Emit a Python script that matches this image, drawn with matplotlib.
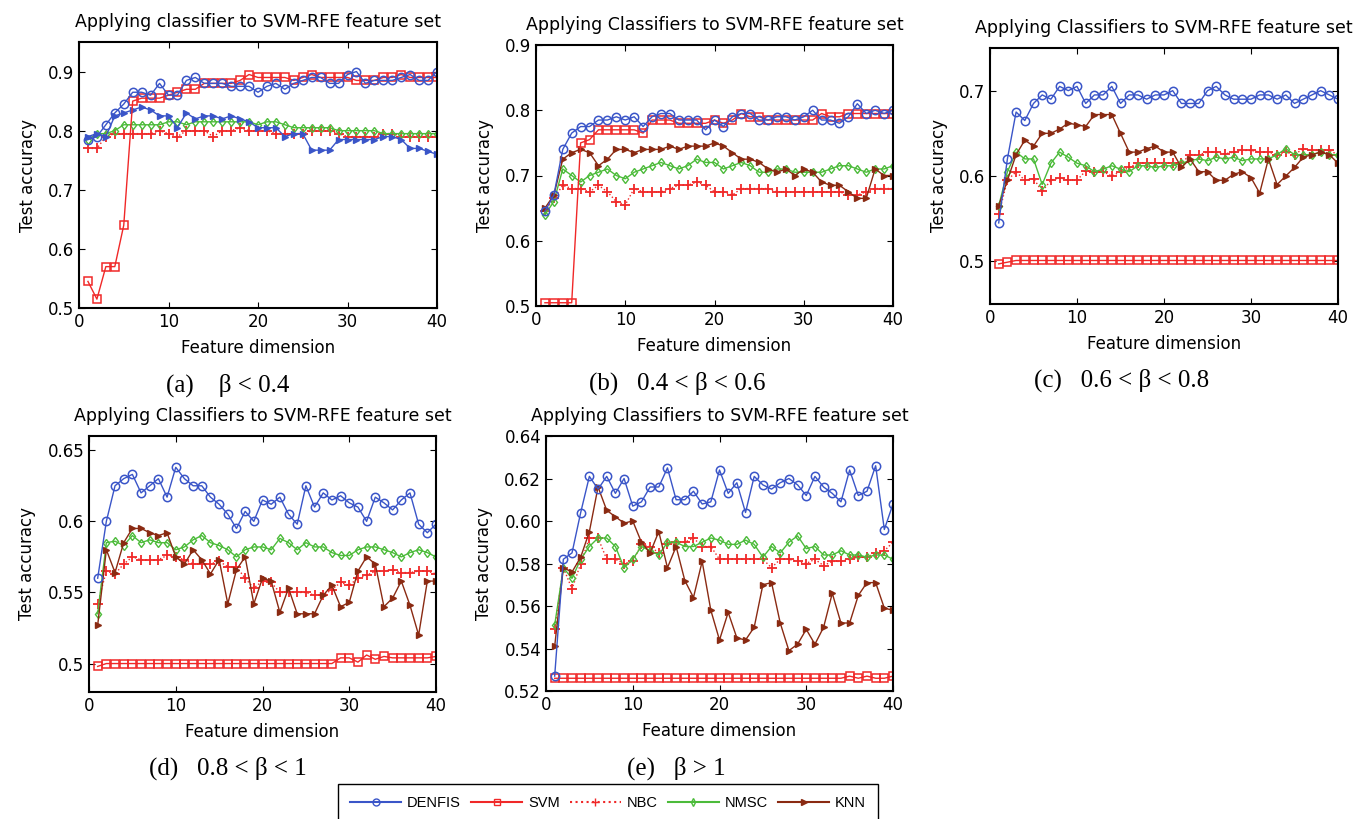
import matplotlib

matplotlib.use("Agg")
import matplotlib.pyplot as plt
import numpy as np
from matplotlib.lines import Line2D
from matplotlib.ticker import FormatStrFormatter

plt.rcParams["font.family"] = ["DejaVu Sans"]

FEATURE_DIM = np.arange(1, 41)

# (a) beta < 0.4
A_DENFIS = [0.785, 0.79, 0.81, 0.83, 0.845, 0.865, 0.865, 0.86, 0.88, 0.86,
            0.86, 0.885, 0.89, 0.88, 0.88, 0.88, 0.875, 0.875, 0.875, 0.865,
            0.875, 0.88, 0.87, 0.88, 0.885, 0.89, 0.89, 0.88, 0.88, 0.895,
            0.9, 0.88, 0.885, 0.885, 0.885, 0.89, 0.895, 0.885, 0.885, 0.9]
A_SVM = [0.545, 0.515, 0.57, 0.57, 0.64, 0.85, 0.855, 0.855, 0.855, 0.86,
         0.865, 0.87, 0.87, 0.88, 0.88, 0.88, 0.88, 0.885, 0.895, 0.89,
         0.89, 0.89, 0.89, 0.885, 0.89, 0.895, 0.89, 0.89, 0.89, 0.89,
         0.885, 0.885, 0.885, 0.89, 0.89, 0.895, 0.89, 0.89, 0.89, 0.89]
A_NBC = [0.77, 0.77, 0.79, 0.795, 0.795, 0.795, 0.795, 0.795, 0.8, 0.795,
         0.79, 0.8, 0.8, 0.8, 0.79, 0.8, 0.8, 0.805, 0.8, 0.8,
         0.8, 0.795, 0.795, 0.795, 0.795, 0.8, 0.8, 0.8, 0.795, 0.79,
         0.79, 0.79, 0.79, 0.795, 0.795, 0.79, 0.79, 0.79, 0.79, 0.79]
A_NMSC = [0.785, 0.795, 0.795, 0.8, 0.81, 0.81, 0.81, 0.81, 0.81, 0.815,
          0.815, 0.81, 0.815, 0.815, 0.815, 0.815, 0.815, 0.815, 0.815, 0.81,
          0.815, 0.815, 0.81, 0.805, 0.805, 0.805, 0.805, 0.805, 0.8, 0.8,
          0.8, 0.8, 0.8, 0.795, 0.795, 0.795, 0.795, 0.795, 0.795, 0.795]
A_KNN = [0.79, 0.795, 0.79, 0.825, 0.83, 0.835, 0.84, 0.835, 0.825, 0.825,
         0.805, 0.83, 0.82, 0.825, 0.825, 0.82, 0.825, 0.82, 0.815, 0.805,
         0.805, 0.805, 0.79, 0.795, 0.795, 0.767, 0.767, 0.767, 0.785, 0.785,
         0.785, 0.785, 0.785, 0.79, 0.79, 0.785, 0.77, 0.77, 0.765, 0.76]

# (b) 0.4 < beta < 0.6
B_DENFIS = [0.645, 0.67, 0.74, 0.765, 0.775, 0.775, 0.785, 0.785, 0.79, 0.785,
            0.79, 0.775, 0.79, 0.795, 0.795, 0.785, 0.785, 0.785, 0.77, 0.785,
            0.775, 0.79, 0.795, 0.795, 0.785, 0.785, 0.79, 0.79, 0.785, 0.79,
            0.8, 0.785, 0.785, 0.78, 0.79, 0.81, 0.795, 0.8, 0.795, 0.8]
B_SVM = [0.505, 0.505, 0.505, 0.505, 0.75, 0.755, 0.77, 0.77, 0.77, 0.77,
         0.77, 0.765, 0.785, 0.785, 0.785, 0.78, 0.78, 0.78, 0.78, 0.785,
         0.78, 0.785, 0.795, 0.79, 0.79, 0.785, 0.785, 0.785, 0.785, 0.785,
         0.785, 0.795, 0.79, 0.79, 0.795, 0.795, 0.795, 0.795, 0.795, 0.795]
B_NBC = [0.645, 0.665, 0.685, 0.68, 0.68, 0.675, 0.685, 0.675, 0.66, 0.655,
         0.68, 0.675, 0.675, 0.675, 0.68, 0.685, 0.685, 0.69, 0.685, 0.675,
         0.675, 0.67, 0.68, 0.68, 0.68, 0.68, 0.675, 0.675, 0.675, 0.675,
         0.675, 0.675, 0.675, 0.675, 0.67, 0.67, 0.675, 0.68, 0.68, 0.68]
B_NMSC = [0.64, 0.66, 0.71, 0.7, 0.69, 0.7, 0.705, 0.71, 0.7, 0.695,
          0.705, 0.71, 0.715, 0.72, 0.715, 0.71, 0.715, 0.725, 0.72, 0.72,
          0.71, 0.715, 0.72, 0.715, 0.705, 0.705, 0.71, 0.71, 0.705, 0.705,
          0.705, 0.705, 0.71, 0.715, 0.715, 0.71, 0.705, 0.71, 0.71, 0.715]
B_KNN = [0.65, 0.67, 0.725, 0.735, 0.74, 0.735, 0.715, 0.725, 0.74, 0.74,
         0.735, 0.74, 0.74, 0.74, 0.745, 0.74, 0.745, 0.745, 0.745, 0.75,
         0.745, 0.735, 0.725, 0.725, 0.72, 0.71, 0.705, 0.71, 0.7, 0.71,
         0.705, 0.69, 0.685, 0.685, 0.675, 0.665, 0.665, 0.71, 0.7, 0.7]

# (c) 0.6 < beta < 0.8
C_DENFIS = [0.545, 0.62, 0.675, 0.665, 0.685, 0.695, 0.69, 0.705, 0.7, 0.705,
            0.685, 0.695, 0.695, 0.705, 0.685, 0.695, 0.695, 0.69, 0.695, 0.695,
            0.7, 0.685, 0.685, 0.685, 0.7, 0.705, 0.695, 0.69, 0.69, 0.69,
            0.695, 0.695, 0.69, 0.695, 0.685, 0.69, 0.695, 0.7, 0.695, 0.69]
C_SVM = [0.497, 0.499, 0.501, 0.501, 0.501, 0.501, 0.501, 0.501, 0.501, 0.501,
         0.501, 0.501, 0.501, 0.501, 0.501, 0.501, 0.501, 0.501, 0.501, 0.501,
         0.501, 0.501, 0.501, 0.501, 0.501, 0.501, 0.501, 0.501, 0.501, 0.501,
         0.501, 0.501, 0.501, 0.501, 0.501, 0.501, 0.501, 0.501, 0.501, 0.501]
C_NBC = [0.555, 0.595, 0.605, 0.595, 0.597, 0.582, 0.595, 0.598, 0.595, 0.595,
         0.606, 0.605, 0.605, 0.6, 0.605, 0.61, 0.615, 0.615, 0.615, 0.615,
         0.615, 0.615, 0.625, 0.625, 0.628, 0.628, 0.626, 0.628, 0.63, 0.63,
         0.628, 0.628, 0.625, 0.628, 0.625, 0.632, 0.63, 0.63, 0.63, 0.625]
C_NMSC = [0.565, 0.605, 0.628, 0.62, 0.62, 0.59, 0.615, 0.628, 0.622, 0.615,
          0.612, 0.605, 0.608, 0.612, 0.608, 0.605, 0.612, 0.612, 0.61, 0.612,
          0.612, 0.615, 0.618, 0.62, 0.618, 0.622, 0.62, 0.622, 0.618, 0.62,
          0.62, 0.62, 0.625, 0.632, 0.625, 0.625, 0.625, 0.628, 0.625, 0.625]
C_KNN = [0.565, 0.595, 0.625, 0.642, 0.635, 0.65, 0.65, 0.655, 0.662, 0.66,
         0.658, 0.672, 0.672, 0.672, 0.65, 0.628, 0.628, 0.632, 0.635, 0.628,
         0.628, 0.61, 0.62, 0.605, 0.605, 0.595, 0.595, 0.602, 0.605, 0.598,
         0.58, 0.62, 0.59, 0.6, 0.61, 0.622, 0.625, 0.628, 0.625, 0.615]

# (d) 0.8 < beta < 1
D_DENFIS = [0.56, 0.6, 0.625, 0.63, 0.633, 0.62, 0.625, 0.63, 0.617, 0.638,
            0.63, 0.625, 0.625, 0.617, 0.612, 0.605, 0.595, 0.607, 0.6, 0.615,
            0.612, 0.617, 0.605, 0.598, 0.625, 0.61, 0.62, 0.615, 0.618, 0.613,
            0.61, 0.6, 0.617, 0.613, 0.608, 0.615, 0.62, 0.598, 0.592, 0.598]
D_SVM = [0.498, 0.5, 0.5, 0.5, 0.5, 0.5, 0.5, 0.5, 0.5, 0.5,
         0.5, 0.5, 0.5, 0.5, 0.5, 0.5, 0.5, 0.5, 0.5, 0.5,
         0.5, 0.5, 0.5, 0.5, 0.5, 0.5, 0.5, 0.5, 0.504, 0.504,
         0.501, 0.506, 0.503, 0.505, 0.504, 0.504, 0.504, 0.504, 0.504, 0.505]
D_NBC = [0.542, 0.565, 0.563, 0.57, 0.575, 0.573, 0.573, 0.573, 0.576, 0.575,
         0.573, 0.57, 0.57, 0.57, 0.572, 0.568, 0.568, 0.56, 0.553, 0.558,
         0.557, 0.55, 0.55, 0.55, 0.55, 0.548, 0.548, 0.552, 0.557, 0.555,
         0.56, 0.562, 0.565, 0.565, 0.566, 0.564, 0.564, 0.565, 0.565, 0.563]
D_NMSC = [0.535, 0.585, 0.586, 0.583, 0.59, 0.585, 0.587, 0.585, 0.585, 0.58,
          0.582, 0.587, 0.59, 0.585, 0.583, 0.58, 0.575, 0.58, 0.582, 0.582,
          0.58, 0.588, 0.585, 0.58, 0.585, 0.582, 0.582, 0.578, 0.576, 0.576,
          0.58, 0.582, 0.582, 0.58, 0.578, 0.575, 0.578, 0.58, 0.578, 0.575]
D_KNN = [0.527, 0.58, 0.564, 0.585, 0.595, 0.595, 0.592, 0.59, 0.592, 0.575,
         0.57, 0.58, 0.573, 0.563, 0.573, 0.542, 0.566, 0.575, 0.542, 0.56,
         0.558, 0.536, 0.553, 0.535, 0.535, 0.535, 0.548, 0.555, 0.54, 0.543,
         0.565, 0.575, 0.57, 0.54, 0.546, 0.558, 0.541, 0.52, 0.558, 0.558]

# (e) beta > 1
E_DENFIS = [0.527, 0.582, 0.585, 0.604, 0.621, 0.615, 0.621, 0.613, 0.62, 0.607,
            0.609, 0.616, 0.616, 0.625, 0.61, 0.61, 0.614, 0.608, 0.609, 0.624,
            0.613, 0.618, 0.604, 0.621, 0.617, 0.615, 0.618, 0.62, 0.617, 0.612,
            0.621, 0.616, 0.613, 0.609, 0.624, 0.612, 0.614, 0.626, 0.596, 0.608]
E_SVM = [0.526, 0.526, 0.526, 0.526, 0.526, 0.526, 0.526, 0.526, 0.526, 0.526,
         0.526, 0.526, 0.526, 0.526, 0.526, 0.526, 0.526, 0.526, 0.526, 0.526,
         0.526, 0.526, 0.526, 0.526, 0.526, 0.526, 0.526, 0.526, 0.526, 0.526,
         0.526, 0.526, 0.526, 0.526, 0.527, 0.526, 0.527, 0.526, 0.526, 0.527]
E_NBC = [0.549, 0.578, 0.568, 0.58, 0.592, 0.592, 0.582, 0.582, 0.58, 0.581,
         0.589, 0.588, 0.585, 0.589, 0.59, 0.59, 0.592, 0.588, 0.588, 0.582,
         0.582, 0.582, 0.582, 0.582, 0.582, 0.578, 0.582, 0.582, 0.581, 0.58,
         0.582, 0.579, 0.581, 0.581, 0.582, 0.583, 0.583, 0.585, 0.586, 0.59]
E_NMSC = [0.551, 0.578, 0.573, 0.582, 0.588, 0.592, 0.592, 0.588, 0.578, 0.582,
          0.588, 0.586, 0.584, 0.59, 0.59, 0.588, 0.588, 0.59, 0.592, 0.591,
          0.589, 0.589, 0.591, 0.589, 0.583, 0.588, 0.585, 0.59, 0.593, 0.587,
          0.588, 0.584, 0.584, 0.586, 0.584, 0.584, 0.583, 0.584, 0.584, 0.582]
E_KNN = [0.541, 0.578, 0.576, 0.583, 0.595, 0.616, 0.605, 0.602, 0.599, 0.6,
         0.59, 0.585, 0.595, 0.578, 0.588, 0.572, 0.564, 0.581, 0.558, 0.544,
         0.557, 0.545, 0.544, 0.55, 0.57, 0.571, 0.552, 0.539, 0.542, 0.549,
         0.542, 0.55, 0.566, 0.552, 0.552, 0.565, 0.571, 0.571, 0.559, 0.558]

TITLES = ["Applying classifier to SVM-RFE feature set"] + \
         ["Applying Classifiers to SVM-RFE feature set"] * 4
CAPTIONS = ["(a)    \u03b2 < 0.4", "(b)   0.4 < \u03b2 < 0.6", "(c)   0.6 < \u03b2 < 0.8",
            "(d)   0.8 < \u03b2 < 1", "(e)   \u03b2 > 1"]
Y_LIMITS = [(0.5, 0.95), (0.5, 0.9), (0.45, 0.75), (0.48, 0.66), (0.52, 0.64)]
Y_TICKS = [[0.5, 0.6, 0.7, 0.8, 0.9], [0.5, 0.6, 0.7, 0.8, 0.9], [0.5, 0.6, 0.7],
           [0.5, 0.55, 0.6, 0.65], [0.52, 0.54, 0.56, 0.58, 0.6, 0.62, 0.64]]
Y_FORMATS = ["%.1f", "%.1f", "%.1f", "%g", "%.2f"]

PANEL_DATA = [
    (A_DENFIS, A_SVM, A_NBC, A_NMSC, A_KNN),
    (B_DENFIS, B_SVM, B_NBC, B_NMSC, B_KNN),
    (C_DENFIS, C_SVM, C_NBC, C_NMSC, C_KNN),
    (D_DENFIS, D_SVM, D_NBC, D_NMSC, D_KNN),
    (E_DENFIS, E_SVM, E_NBC, E_NMSC, E_KNN),
]

# axes boxes in pixels: left, top, right, bottom
AX_BOXES = [(79, 42, 437, 308), (536, 45, 893, 306), (990, 48, 1338, 304),
            (89, 436, 436, 692), (546, 436, 893, 691)]
CAPTION_POS = [(228, 385), (677, 383), (1122, 380), (228, 768), (676, 768)]

BLUE = "#3a55c8"
RED = "#f02828"
GREEN = "#4cbb3a"
BROWN = "#8a2a12"

W, H = 1359, 819
fig = plt.figure(figsize=(W / 100, H / 100), dpi=100)

for i, (series, box) in enumerate(zip(PANEL_DATA, AX_BOXES)):
    l, t, r, b = box
    ax = fig.add_axes([l / W, 1 - b / H, (r - l) / W, (b - t) / H])
    denfis, svm, nbc, nmsc, knn = series
    knn_color = BLUE if i == 0 else BROWN

    ax.plot(FEATURE_DIM, nbc, color=RED, linestyle=":", linewidth=1,
            marker="+", markersize=7, markeredgewidth=1.3)
    ax.plot(FEATURE_DIM, nmsc, color=GREEN, linewidth=1,
            marker="d", markersize=4.5, markerfacecolor="none")
    ax.plot(FEATURE_DIM, knn, color=knn_color, linewidth=1,
            marker=">", markersize=5, markerfacecolor=knn_color)
    ax.plot(FEATURE_DIM, svm, color=RED, linewidth=1,
            marker="s", markersize=6, markerfacecolor="none", markeredgewidth=1.1)
    ax.plot(FEATURE_DIM, denfis, color=BLUE, linewidth=1,
            marker="o", markersize=6, markerfacecolor="none", markeredgewidth=1.1)

    ax.set_xlim(0, 40)
    ax.set_ylim(*Y_LIMITS[i])
    ax.set_xticks([0, 10, 20, 30, 40])
    ax.set_yticks(Y_TICKS[i])
    ax.yaxis.set_major_formatter(FormatStrFormatter(Y_FORMATS[i]))
    ax.tick_params(direction="in", top=True, right=True, labelsize=12, length=4)
    for sp in ax.spines.values():
        sp.set_linewidth(1.5)
    ax.set_title(TITLES[i], fontsize=12.5, pad=11)
    ax.set_xlabel("Feature dimension", fontsize=12, labelpad=6)
    ax.set_ylabel("Test accuracy", fontsize=12, labelpad=8)

    cx, cy = CAPTION_POS[i]
    fig.text(cx / W, 1 - cy / H, CAPTIONS[i], ha="center", va="center",
             fontsize=18, family="Liberation Serif")

handles = [
    Line2D([], [], color=BLUE, marker="o", markersize=5, markerfacecolor="none"),
    Line2D([], [], color=RED, marker="s", markersize=5, markerfacecolor="none"),
    Line2D([], [], color=RED, linestyle=":", marker="+", markersize=6),
    Line2D([], [], color=GREEN, marker="d", markersize=4, markerfacecolor="none"),
    Line2D([], [], color=BROWN, marker=">", markersize=5),
]
leg = fig.legend(handles, ["DENFIS", "SVM", "NBC", "NMSC", "KNN"], ncol=5,
                 loc="upper center", bbox_to_anchor=(608 / W, 1 - 784 / H),
                 borderaxespad=0, borderpad=0.8,
                 prop={"family": "Liberation Sans", "size": 10.5},
                 handlelength=3.5, handletextpad=0.4, columnspacing=0.7,
                 fancybox=False, edgecolor="black", framealpha=1)
leg.get_frame().set_linewidth(1.0)

fig.savefig("out.png", dpi=100)
